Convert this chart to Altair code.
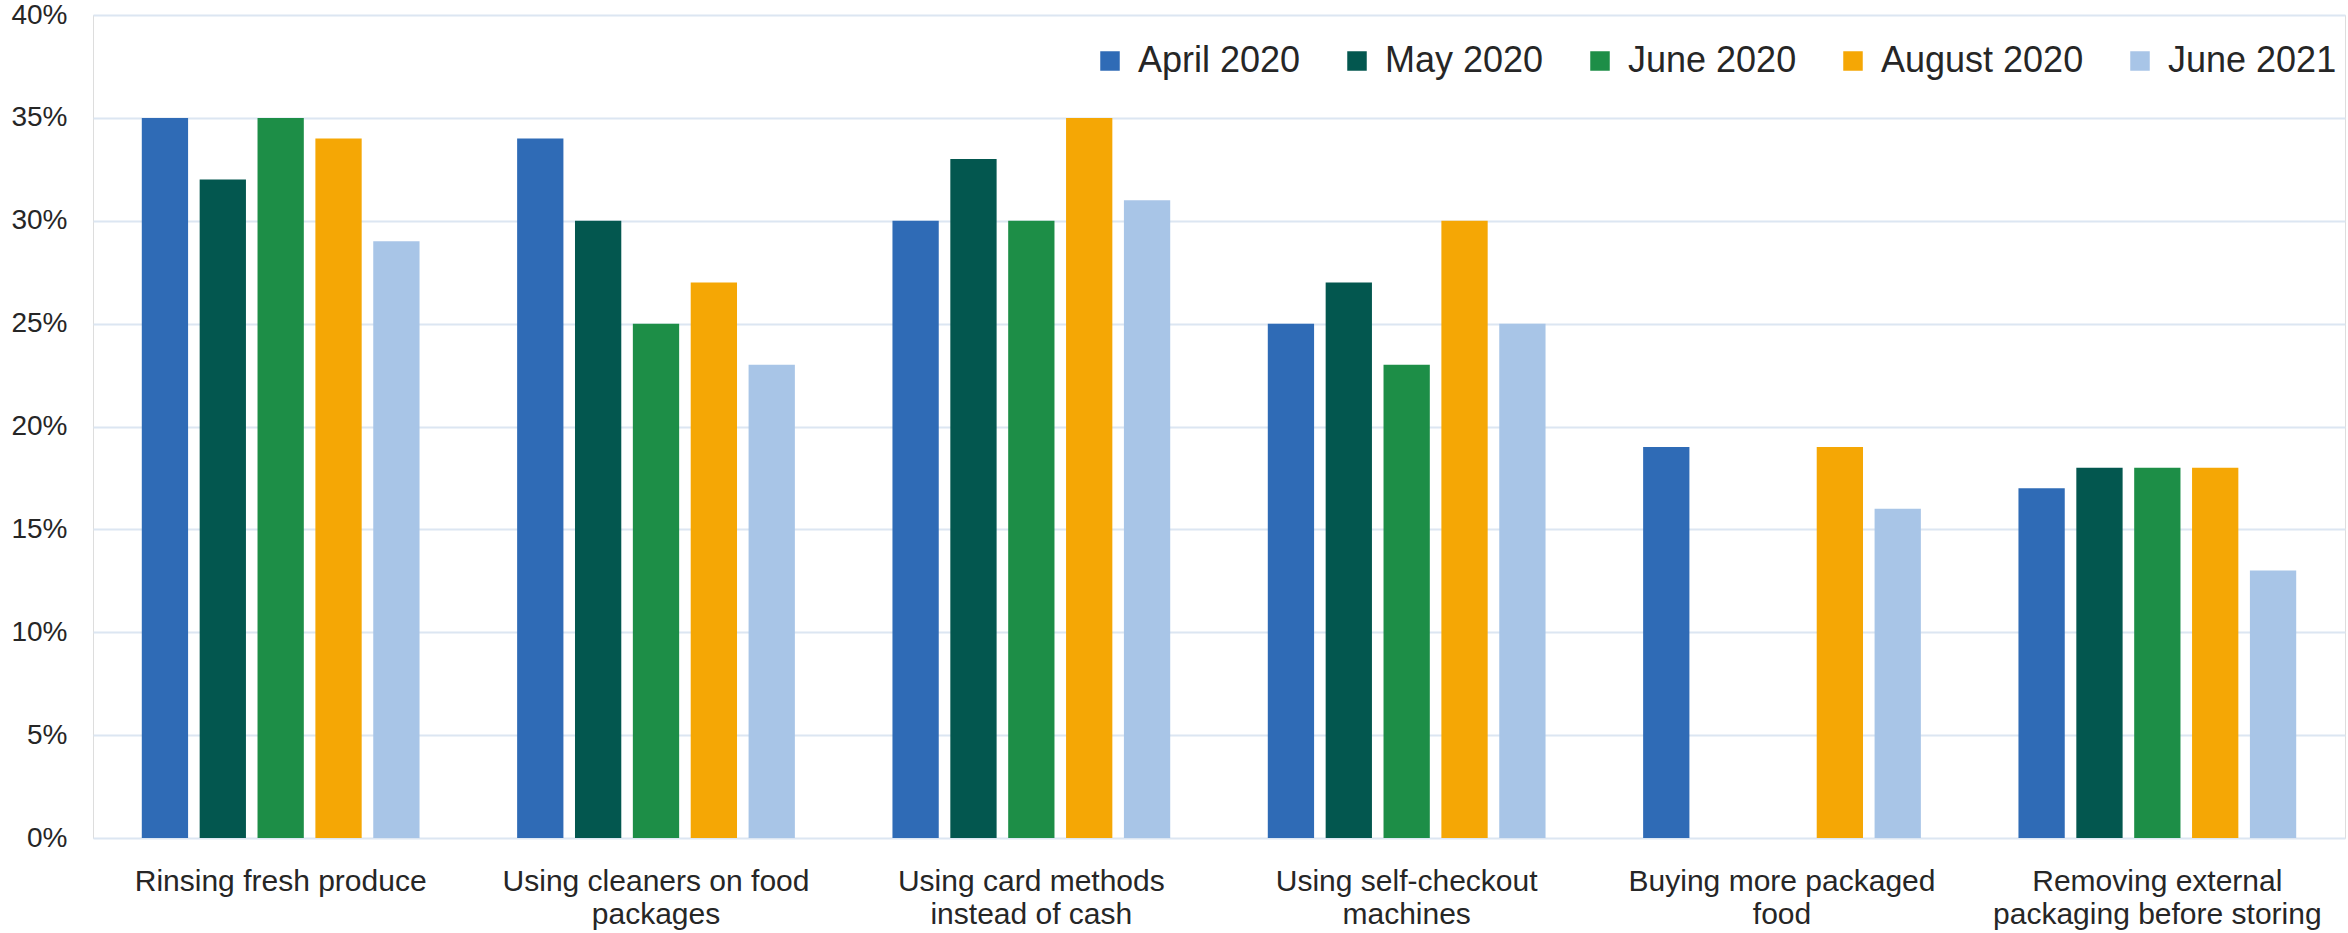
import altair as alt
import pandas as pd

categories = [
    "Rinsing fresh produce",
    "Using cleaners on food packages",
    "Using card methods instead of cash",
    "Using self-checkout machines",
    "Buying more packaged food",
    "Removing external packaging before storing",
]
label_lines = [
    ["Rinsing fresh produce"],
    ["Using cleaners on food", "packages"],
    ["Using card methods", "instead of cash"],
    ["Using self-checkout", "machines"],
    ["Buying more packaged", "food"],
    ["Removing external", "packaging before storing"],
]
series = ["April 2020", "May 2020", "June 2020", "August 2020", "June 2021"]
colors = ["#2F6BB6", "#03574F", "#1D8E47", "#F5A705", "#A8C5E7"]

april_2020 = [0.35, 0.34, 0.30, 0.25, 0.19, 0.17]
may_2020 = [0.32, 0.30, 0.33, 0.27, None, 0.18]
june_2020 = [0.35, 0.25, 0.30, 0.23, None, 0.18]
august_2020 = [0.34, 0.27, 0.35, 0.30, 0.19, 0.18]
june_2021 = [0.29, 0.23, 0.31, 0.25, 0.16, 0.13]

values = [april_2020, may_2020, june_2020, august_2020, june_2021]
rows = []
for s, vals in zip(series, values):
    for c, v in zip(categories, vals):
        if v is not None:
            rows.append({"category": c, "series": s, "value": v})
df = pd.DataFrame(rows)

# label expression for multi-line category labels
expr = "datum.label"
for c, lines in zip(categories, label_lines):
    arr = "[" + ",".join("'" + l + "'" for l in lines) + "]"
    expr = f"datum.label == '{c}' ? {arr} : ({expr})"

text_color = "#262626"

chart = alt.Chart(df).mark_bar().encode(
    x=alt.X(
        "category:N",
        sort=categories,
        scale=alt.Scale(domain=categories, paddingInner=0.26, paddingOuter=0.13),
        axis=alt.Axis(
            title=None,
            labelAngle=0,
            domain=False,
            ticks=False,
            labelFont="Liberation Sans",
            labelFontSize=30,
            labelLineHeight=33,
            labelColor=text_color,
            labelPadding=28,
            labelLimit=500,
            labelBaseline="top",
            labelExpr=expr,
        ),
    ),
    xOffset=alt.XOffset(
        "series:N",
        sort=series,
        scale=alt.Scale(domain=series, paddingInner=0.2, paddingOuter=0),
    ),
    y=alt.Y(
        "value:Q",
        scale=alt.Scale(domain=[0, 0.4], nice=False),
        axis=alt.Axis(
            title=None,
            values=[0, 0.05, 0.1, 0.15, 0.2, 0.25, 0.3, 0.35, 0.4],
            format=".0%",
            domain=False,
            ticks=False,
            grid=True,
            gridColor="#DCE6F2",
            gridWidth=2,
            labelFont="Liberation Sans",
            labelFontSize=28,
            labelColor=text_color,
            labelPadding=26,
        ),
    ),
    color=alt.Color(
        "series:N",
        sort=series,
        scale=alt.Scale(domain=series, range=colors),
        legend=alt.Legend(
            title=None,
            orient="none",
            direction="horizontal",
            legendX=999,
            legendY=28,
            symbolType="square",
            symbolSize=380,
            symbolStrokeWidth=0,
            symbolOpacity=1,
            labelFont="Liberation Sans",
            labelFontSize=36,
            labelColor=text_color,
            labelOffset=10,
            columnPadding=38,
            padding=0,
            labelLimit=400,
        ),
    ),
).properties(
    width=2252,
    height=823,
    padding={"left": 93, "top": 15, "right": 3, "bottom": 95},
    autosize=alt.AutoSizeParams(type="none"),
).configure_view(stroke=None).configure(background="white")

chart.save("out.html", embed_options={"renderer": "svg", "actions": False})
